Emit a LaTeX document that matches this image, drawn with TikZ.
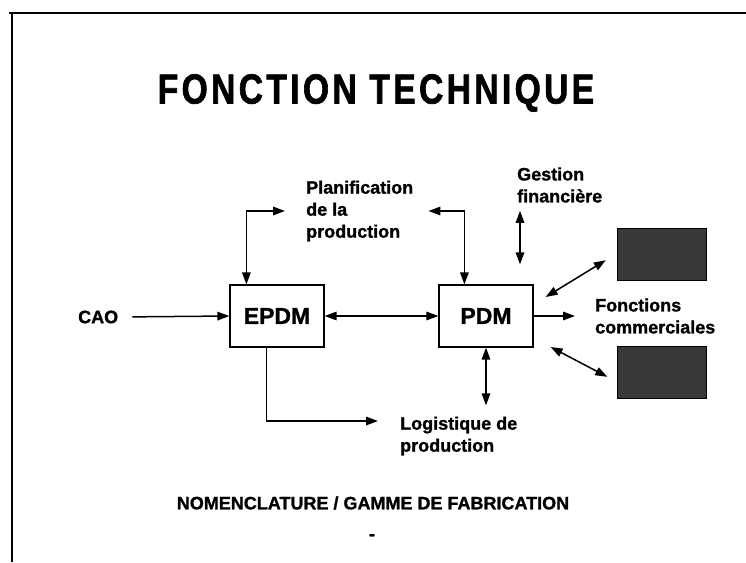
\documentclass[tikz,border=0pt]{standalone}
\usepackage{fontspec}
\setmainfont{Liberation Sans}[BoldFeatures={FakeBold=1.2}]
\newfontfamily\titlefont{Liberation Sans}[FakeStretch=0.8, LetterSpace=8,
    BoldFeatures={FakeBold=1.5}]
\usetikzlibrary{arrows.meta, positioning, calc}

\begin{document}
\begin{tikzpicture}[
    x=1pt, y=-1pt,
    lbl/.style={font=\bfseries\fontsize{18}{22}\selectfont,
                align=left, inner sep=0pt},
    blk/.style={rectangle, draw=black, line width=1.2pt,
                minimum width=94pt, minimum height=62pt,
                font=\bfseries\fontsize{23}{26}\selectfont},
    hidbox/.style={rectangle, draw=black, fill=black!78,
                   minimum width=89pt, minimum height=52pt},
    arr/.style={-{Triangle[length=12pt, width=8.5pt]}, line width=1.5pt},
    dbl/.style={{Triangle[length=12pt, width=8.5pt]}-{Triangle[length=12pt, width=8.5pt]},
                line width=1.5pt},
]

% --- cadre ---
\useasboundingbox (0,0) rectangle (746,562);
\coordinate (TL) at (12,13);
\draw [line width=2pt] (9,13) -- (746,13);
\draw [line width=2pt] (TL) -- (12,562);

% --- titre ---
\node (title) [font=\titlefont\bfseries\fontsize{42}{48}\selectfont]
    at (376,93) {FONCTION TECHNIQUE};

% --- blocs ---
\node (cao) [lbl, anchor=west] at (78,317) {CAO};
\node (epdm) [blk] at (277,316) {EPDM};
\node (pdm) [blk] at (486,316) {PDM};

\node (planif) [lbl, anchor=west] at (306,211)
    {Planification\\de la\\production};
\node (gestion) [lbl, anchor=west] at (517,185)
    {Gestion\\financière};
\node (fonctions) [lbl, anchor=west] at (595,316)
    {Fonctions\\commerciales};
\node (logist) [lbl, anchor=west] at (400,436)
    {Logistique de\\production};

\node (boxa) [hidbox] at (661.5,254) {};
\node (boxb) [hidbox] at (662,372) {};

% --- fleches ---
\draw [arr, shorten <=14pt] (cao.east) -- (epdm.west);
\draw [dbl] (epdm) -- (pdm);

% Planification <-> EPDM / PDM
\draw [dbl] ($(epdm.north west)+(17,0)$) |- ($(planif.west)+(-21,0)$);
\draw [dbl] ($(planif.east)+(15,0)$) -| ($(pdm.north west)+(26,0)$);

% Gestion financiere <-> PDM
\draw [dbl] ($(gestion.south west)+(3,8)$) -- ($(gestion.west |- pdm.north)+(3,-20)$);

% PDM <-> Logistique
\draw [dbl, shorten >=11pt] (pdm.south) -- (pdm.south |- logist.north);

% EPDM -> Logistique
\draw [arr] ($(epdm.south west)+(37,0)$) |- ($(logist.west)+(-22,-15)$);

% PDM -> fonctions commerciales
\draw [arr, shorten >=20pt] (pdm.east) -- (fonctions.west);
\draw [dbl] ($(pdm.east)+(12,-19)$) -- ($(boxa.south west)+(-11,-20)$);
\draw [dbl] ($(pdm.east)+(17,31)$) -- ($(boxb.north west)+(-10,31)$);

% --- pied ---
\node (nomencl) [lbl] at (373,503) {NOMENCLATURE / GAMME DE FABRICATION};
\node (tiret) [lbl] at (372,537) {-};

\end{tikzpicture}
\end{document}
